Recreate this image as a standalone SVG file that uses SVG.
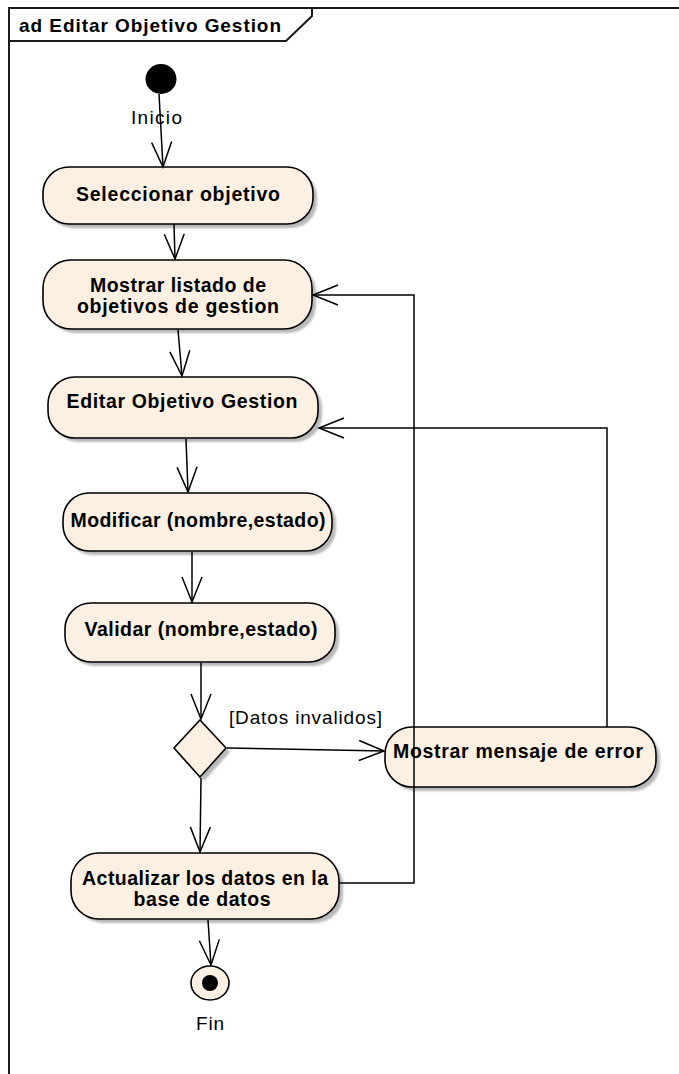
<svg xmlns="http://www.w3.org/2000/svg" width="679" height="1074" viewBox="0 0 679 1074">
  <style>
    .frame { fill: none; stroke: #1a1a1a; stroke-width: 2; }
    .act { fill: #FBF0E1; stroke: #000; stroke-width: 1.6; }
    .shadow { fill: #b8b8b8; filter: url(#soft); }
    .lbl { font-family: "Liberation Sans", Arial, sans-serif; font-size: 19.5px; font-weight: bold; fill: #000; text-anchor: middle; }
    .note { font-family: "Liberation Sans", Arial, sans-serif; font-size: 19px; fill: #000; }
    .flow { fill: none; stroke: #000; stroke-width: 1.5; marker-end: url(#open); }
  </style>
  <defs>
    <filter id="soft" x="-10%" y="-10%" width="120%" height="130%">
      <feGaussianBlur stdDeviation="1.2"/>
    </filter>
    <marker id="open" markerUnits="userSpaceOnUse" markerWidth="40" markerHeight="40" refX="0" refY="0" orient="auto" overflow="visible">
      <path d="M-25,-10 L0,0 L-25,10" fill="none" stroke="#000" stroke-width="1.5"/>
    </marker>
  </defs>

  <rect width="679" height="1074" fill="#fff"/>

  <!-- activity frame with title tab -->
  <g id="frame">
    <path class="frame" d="M9,1074 L9,8 L679,8"/>
    <path class="frame" d="M9,41 L286,41 L312,16 L312,8"/>
    <text x="19" y="32" class="note" font-weight="bold" font-size="19.5" textLength="262" lengthAdjust="spacing">ad Editar Objetivo Gestion</text>
  </g>

  <g id="inicio">
    <ellipse cx="161" cy="79" rx="15.5" ry="15" fill="#000"/>
    <text x="131" y="124" class="note" textLength="51" lengthAdjust="spacing">Inicio</text>
  </g>

  <g id="seleccionar">
    <rect class="shadow" x="47" y="171" width="270" height="57" rx="26"/>
    <rect class="act" x="43" y="167" width="270" height="57" rx="26"/>
    <text x="178" y="201" class="lbl" textLength="204" lengthAdjust="spacing">Seleccionar objetivo</text>
  </g>

  <g id="mostrar-listado">
    <rect class="shadow" x="47" y="264" width="269" height="69" rx="28"/>
    <rect class="act" x="43" y="260" width="269" height="69" rx="28"/>
    <text x="178" y="292" class="lbl" textLength="176" lengthAdjust="spacing">Mostrar listado de</text>
    <text x="178" y="313" class="lbl" textLength="202" lengthAdjust="spacing">objetivos de gestion</text>
  </g>

  <g id="editar">
    <rect class="shadow" x="52" y="381" width="270" height="61" rx="27"/>
    <rect class="act" x="48" y="377" width="270" height="61" rx="27"/>
    <text x="182" y="408" class="lbl" textLength="231" lengthAdjust="spacing">Editar Objetivo Gestion</text>
  </g>

  <g id="modificar">
    <rect class="shadow" x="67" y="497" width="269" height="58" rx="26"/>
    <rect class="act" x="63" y="493" width="269" height="58" rx="26"/>
    <text x="198" y="527" class="lbl" textLength="255" lengthAdjust="spacing">Modificar (nombre,estado)</text>
  </g>

  <g id="validar">
    <rect class="shadow" x="69" y="607" width="270" height="59" rx="26"/>
    <rect class="act" x="65" y="603" width="270" height="59" rx="26"/>
    <text x="201" y="636" class="lbl" textLength="233" lengthAdjust="spacing">Validar (nombre,estado)</text>
  </g>

  <g id="decision">
    <path class="shadow" d="M204,724 L230,752 L204,781 L178,752 Z"/>
    <path class="act" d="M200,720 L226,748 L200,777 L174,748 Z"/>
  </g>

  <g id="mostrar-error">
    <rect class="shadow" x="389" y="731" width="271" height="60" rx="27"/>
    <rect class="act" x="385" y="727" width="271" height="60" rx="27"/>
    <text x="518" y="758" class="lbl" textLength="250" lengthAdjust="spacing">Mostrar mensaje de error</text>
  </g>

  <g id="actualizar">
    <rect class="shadow" x="75" y="857" width="268" height="66" rx="28"/>
    <rect class="act" x="71" y="853" width="268" height="66" rx="28"/>
    <text x="205" y="885" class="lbl" textLength="246" lengthAdjust="spacing">Actualizar los datos en la</text>
    <text x="202" y="906" class="lbl" textLength="137" lengthAdjust="spacing">base de datos</text>
  </g>

  <g id="fin">
    <ellipse cx="210" cy="983" rx="19" ry="17" fill="#FBF0E1" stroke="#000" stroke-width="1.6"/>
    <ellipse cx="210" cy="983" rx="8" ry="8" fill="#000"/>
    <text x="210" y="1030" class="note" text-anchor="middle" textLength="28" lengthAdjust="spacing">Fin</text>
  </g>

  <g id="connectors">
    <path class="flow" d="M159,94 L163,167"/>
    <path class="flow" d="M174,224 L175,259"/>
    <path class="flow" d="M178,330 L182,376"/>
    <path class="flow" d="M186,439 L188,492"/>
    <path class="flow" d="M192,552 L192,602"/>
    <path class="flow" d="M201,663 L201,719"/>
    <path class="flow" d="M227,748 L384,751"/>
    <text x="229" y="724" class="note" textLength="153" lengthAdjust="spacing">[Datos invalidos]</text>
    <path class="flow" d="M201,778 L200,852"/>
    <path class="flow" d="M208,920 L211,965"/>
    <path class="flow" d="M339,883 L414,883 L414,295 L313,295"/>
    <path class="flow" d="M607,727 L607,428 L319,428"/>
  </g>
</svg>
